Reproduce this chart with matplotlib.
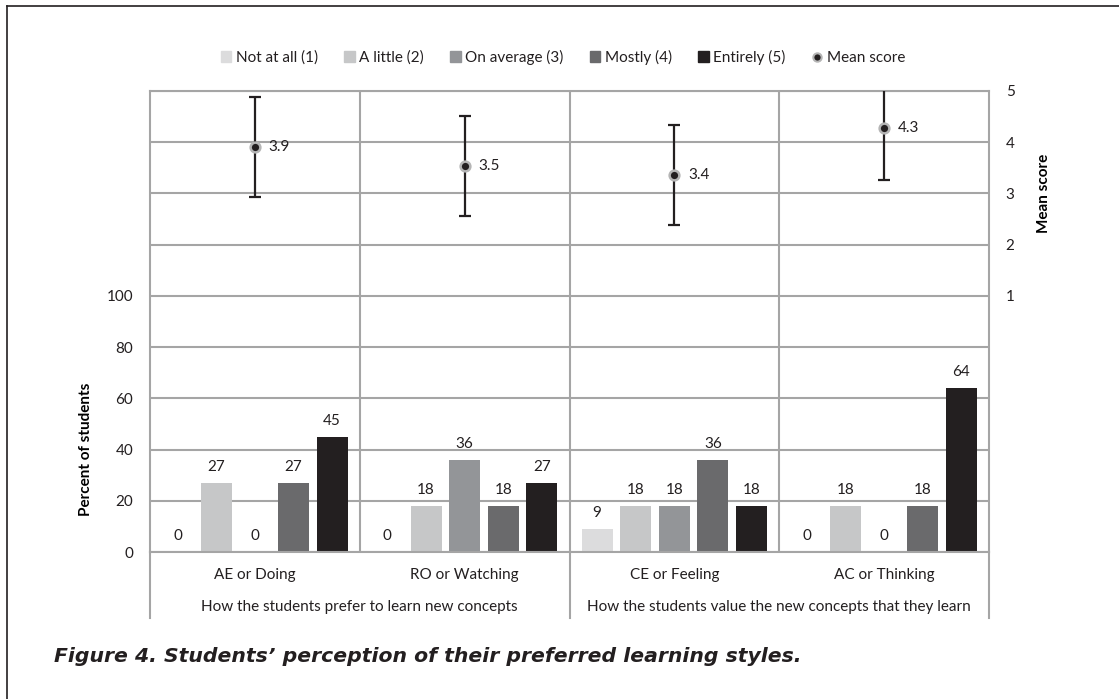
import numpy as np
import matplotlib.pyplot as plt
from matplotlib.patches import Patch
from matplotlib.lines import Line2D

plt.rcParams['font.family'] = ['Lato', 'DejaVu Sans']
plt.rcParams['text.color'] = '#231f20'

# data
categories = ['AE or Doing', 'RO or Watching', 'CE or Feeling', 'AC or Thinking']
groups = ['How the students prefer to learn new concepts',
          'How the students value the new concepts that they learn']
levels = ['Not at all (1)', 'A little (2)', 'On average (3)', 'Mostly (4)', 'Entirely (5)']
not_at_all = [0, 0, 9, 0]
a_little = [27, 18, 18, 18]
on_average = [0, 36, 18, 0]
mostly = [27, 18, 36, 18]
entirely = [45, 27, 18, 64]
mean_score = [3.91, 3.53, 3.36, 4.27]
mean_sd = [0.97, 0.98, 0.97, 1.0]

series = [not_at_all, a_little, on_average, mostly, entirely]
colors = ['#dcdcdd', '#c6c7c8', '#939598', '#6a6a6c', '#231f20']
grid_c = '#a5a5a5'
ink = '#231f20'
fs = 11

fig = plt.figure(figsize=(11.19, 6.99), dpi=100)
ax = fig.add_axes([150/1119, 1-552/699, 839/1119, 461/699])

x = np.arange(len(categories)) + 0.5
step = 0.184
width = 0.148
for i, (vals, c) in enumerate(zip(series, colors)):
    xs = x + (i - 2) * step
    ax.bar(xs, vals, width, color=c, zorder=2)
    for xx, v in zip(xs, vals):
        ax.annotate(str(v), (xx, v), xytext=(0, 11.5), textcoords='offset points',
                    ha='center', va='center', fontsize=fs)

ax.set_xlim(0, 4)
ax.set_ylim(0, 180)
ticks = np.arange(0, 181, 20)
ax.set_yticks(ticks)
ax.set_yticklabels([str(t) if t <= 100 else '' for t in ticks])
ax.set_xticks([])
ax.tick_params(length=0, pad=12, labelsize=fs, labelcolor=ink)
ax.yaxis.grid(True, color=grid_c, lw=1.5)
ax.set_axisbelow(True)
for k in [1, 2, 3]:
    ax.axvline(k, color=grid_c, lw=1.5, zorder=1)
for s in ['left', 'right', 'top', 'bottom']:
    ax.spines[s].set_color(grid_c)
    ax.spines[s].set_linewidth(1.5)

# separators under the axis for the two groups
for k in [0, 2, 4]:
    ax.plot([k, k], [0, -0.143], transform=ax.get_xaxis_transform(),
            color=grid_c, lw=1.5, clip_on=False)

for xx, lab in zip(x, categories):
    ax.text(xx, -0.05, lab, transform=ax.get_xaxis_transform(),
            ha='center', va='center', fontsize=fs)
for k, lab in enumerate(groups):
    ax.text(2 * k + 1, -0.119, lab, transform=ax.get_xaxis_transform(),
            ha='center', va='center', fontsize=fs)

ax.set_ylabel('Percent of students', fontsize=fs, fontweight='bold')
ax.yaxis.set_label_coords(-0.068, 40 / 180)

# mean score on right axis (1..5 maps to upper part)
ax2 = ax.twinx()
ax2.set_ylim(-4, 5)
ax2.set_yticks([1, 2, 3, 4, 5])
ax2.tick_params(length=0, pad=12, labelsize=fs, labelcolor=ink)
for s in ax2.spines.values():
    s.set_visible(False)
ax2.errorbar(x, mean_score, yerr=mean_sd, fmt='none', ecolor=ink,
             elinewidth=1.6, capsize=4.5, capthick=1.6, zorder=3)
ax2.plot(x, mean_score, 'o', ms=7, mfc=ink, mec='#b5b5b5', mew=1.8, zorder=4)
for xx, m in zip(x, mean_score):
    ax2.annotate(f'{m:.1f}', (xx, m), xytext=(10, 0), textcoords='offset points',
                 ha='left', va='center', fontsize=fs)
ax2.set_ylabel('Mean score', fontsize=fs, fontweight='bold', rotation=90)
ax2.yaxis.set_label_coords(1.057, 7 / 9)

handles = [Patch(color=c) for c in colors]
handles.append(Line2D([], [], marker='o', ls='none', ms=6, mfc=ink, mec='#b5b5b5', mew=1.5))
fig.legend(handles, levels + ['Mean score'], loc='center', bbox_to_anchor=(0.503, 0.918),
           ncol=6, frameon=False, handlelength=0.7, handleheight=0.7,
           handletextpad=0.3, columnspacing=1.7, fontsize=fs)

# frame lines and caption
fig.add_artist(Line2D([7/1119, 1], [1-6/699, 1-6/699], transform=fig.transFigure, color=ink, lw=1.2))
fig.add_artist(Line2D([7/1119, 7/1119], [0, 1-6/699], transform=fig.transFigure, color=ink, lw=1.2))
fig.text(54/1119, 1-657/699, 'Figure 4. Students\u2019 perception of their preferred learning styles.',
         ha='left', va='center', fontsize=14.7, fontweight='bold', fontstyle='italic',
         family=['DejaVu Sans'], color=ink)

fig.savefig('out.png', dpi=100)
